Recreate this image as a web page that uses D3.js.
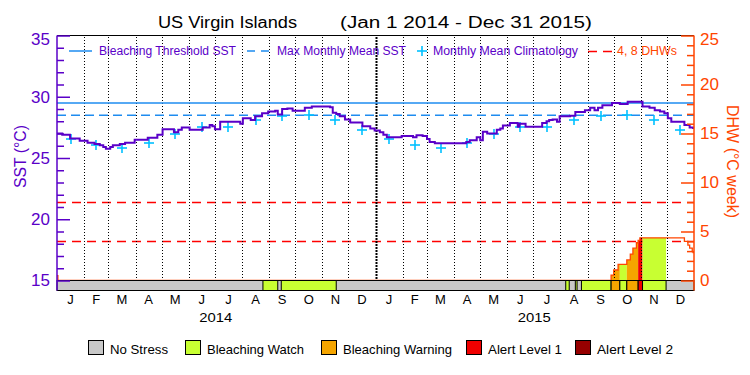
<!DOCTYPE html>
<html>
<head>
<meta charset="utf-8">
<script src="https://cdn.jsdelivr.net/npm/d3@7"></script>
<style>
  body { margin: 0; background: #fff; }
  svg { display: block; font-family: 'Liberation Sans', Arial, sans-serif; }
</style>
</head>
<body>
<div id="chart"></div>
<script>
const monthLetters = ['J', 'F', 'M', 'A', 'M', 'J', 'J', 'A', 'S', 'O', 'N', 'D']
const years = [2014, 2015]

// daily SST (only the points where the step line changes)
const sstDates = [
  '2014-01-01', '2014-01-07', '2014-01-16', '2014-01-27', '2014-02-05', '2014-02-13', '2014-02-19',
  '2014-02-23', '2014-02-26', '2014-03-03', '2014-03-06', '2014-03-14', '2014-03-20', '2014-03-31',
  '2014-04-15', '2014-04-26', '2014-05-02', '2014-05-15', '2014-05-20', '2014-05-24', '2014-06-02',
  '2014-06-17', '2014-06-25', '2014-06-28', '2014-07-01', '2014-07-07', '2014-07-30', '2014-08-02',
  '2014-08-11', '2014-08-16', '2014-08-24', '2014-08-31', '2014-09-08', '2014-09-11', '2014-09-16',
  '2014-09-22', '2014-09-28', '2014-10-12', '2014-10-20', '2014-11-10', '2014-11-13', '2014-11-17',
  '2014-11-21', '2014-11-27', '2014-12-03', '2014-12-17', '2014-12-26', '2014-12-31',
  '2015-01-06', '2015-01-10', '2015-01-14', '2015-01-31', '2015-02-13', '2015-02-17', '2015-02-24',
  '2015-03-01', '2015-03-04', '2015-03-10', '2015-04-15', '2015-04-19', '2015-04-27', '2015-05-01',
  '2015-05-04', '2015-05-09', '2015-05-20', '2015-05-24', '2015-05-27', '2015-06-04', '2015-06-13',
  '2015-06-15', '2015-06-22', '2015-07-11', '2015-07-16', '2015-07-19', '2015-07-23', '2015-07-28',
  '2015-07-31', '2015-08-12', '2015-08-18', '2015-08-29', '2015-09-04', '2015-09-09', '2015-09-13',
  '2015-09-18', '2015-09-29', '2015-10-08', '2015-10-17', '2015-11-03', '2015-11-11', '2015-11-17',
  '2015-11-23', '2015-11-28', '2015-12-02', '2015-12-06', '2015-12-21', '2015-12-27', '2015-12-31'
]
const sstValues = [
  27.0, 26.9, 26.6, 26.4, 26.25, 26.15, 26.05,
  25.9, 25.75, 25.9, 26.05, 26.15, 26.25, 26.5,
  26.65, 26.9, 27.35, 27.1, 27.3, 27.5, 27.3,
  27.5, 27.7, 27.6, 27.35, 27.95, 27.8, 28.25,
  28.1, 28.4, 28.65, 28.8, 28.85, 28.55, 29.0,
  29.05, 28.85, 29.1, 29.2, 29.15, 28.7, 28.6,
  28.4, 28.15, 27.9, 27.6, 27.4, 27.25,
  27.1, 26.9, 26.7, 26.8, 26.7, 26.85, 26.8,
  26.55, 26.3, 26.2, 26.3, 26.45, 26.7, 26.45,
  27.15, 27.0, 27.3, 27.4, 27.65, 27.85, 27.55,
  27.8, 27.55, 27.85, 28.0, 28.1, 28.15, 27.95,
  28.4, 28.45, 28.75, 28.9, 29.1, 28.9, 29.1,
  29.3, 29.5, 29.4, 29.6, 29.2, 29.1, 28.9,
  28.8, 28.65, 28.25, 27.95, 27.7, 27.5, 27.45
]

// monthly mean climatology, Jan..Dec
const climValues = [26.55, 26.1, 25.8, 26.2, 26.95, 27.5, 27.55, 28.1, 28.45, 28.5, 28.1, 27.3]
const mmm = 28.5
const bleachingThreshold = 29.5
const dhwLevels = [4, 8]

const dhwDates = [
  '2014-01-01', '2014-01-02', '2015-09-28', '2015-10-01', '2015-10-06', '2015-10-16', '2015-10-20',
  '2015-10-23', '2015-10-27', '2015-10-29', '2015-10-31', '2015-12-21', '2015-12-25', '2015-12-27',
  '2015-12-30', '2015-12-31'
]
const dhwValues = [0.5, 0, 0.55, 1.07, 1.65, 2.1, 2.7, 3.3, 3.85, 4.1, 4.35, 4.0, 3.6, 3.3, 2.95, 2.85]

// alert status periods (anything not listed is No Stress)
const alertStarts = ['2014-08-25', '2014-09-15', '2015-08-07', '2015-08-18', '2015-08-25', '2015-09-28', '2015-10-08', '2015-10-16', '2015-10-29', '2015-11-03']
const alertEnds = ['2014-09-11', '2014-11-17', '2015-08-11', '2015-08-20', '2015-09-28', '2015-10-08', '2015-10-16', '2015-10-29', '2015-11-03', '2015-11-30']
const alertLevels = [1, 1, 1, 1, 1, 2, 1, 2, 3, 1]

const statusNames = ['No Stress', 'Bleaching Watch', 'Bleaching Warning', 'Alert Level 1', 'Alert Level 2']
const statusColors = ['#c8c8c8', '#c8ff32', '#f5a500', '#f00000', '#960000']

const sstTicks = d3.range(15, 36)
const dhwTicks = d3.range(0, 26)

const purple = '#5a00c8'
const orange = '#ff4500'
const blue = '#1e8cf0'
const cyan = '#00c0ff'

const parse = d3.timeParse('%Y-%m-%d')
const start = new Date(2014, 0, 1)
const end = new Date(2016, 0, 1)

const sst = sstDates.map((d, i) => ({ date: parse(d), v: sstValues[i] }))
sst.push({ date: end, v: sstValues[sstValues.length - 1] })
const dhw = dhwDates.map((d, i) => ({ date: parse(d), v: dhwValues[i] }))
dhw.push({ date: end, v: dhwValues[dhwValues.length - 1] })
const alerts = alertStarts.map((s, i) => ({ s: parse(s), e: parse(alertEnds[i]), level: alertLevels[i] }))

const margin = { top: 35.5, left: 57, right: 694, bottom: 280.5 }

const svg = d3.select('#chart').append('svg').attr('width', 750).attr('height', 375)

const x = d3.scaleTime().domain([start, end]).range([margin.left, margin.right])
const ySst = d3.scaleLinear().domain([15, 35]).range([margin.bottom, margin.top])
const yDhw = d3.scaleLinear().domain([0, 25]).range([margin.bottom, margin.top])

// title
svg.append('text').attr('x', 158).attr('y', 28).attr('font-size', 16)
  .attr('textLength', 139).attr('lengthAdjust', 'spacingAndGlyphs').text('US Virgin Islands')
svg.append('text').attr('x', 340).attr('y', 28).attr('font-size', 16)
  .attr('textLength', 252).attr('lengthAdjust', 'spacingAndGlyphs').text('(Jan 1 2014 - Dec 31 2015)')

// DHW threshold lines
svg.append('g').selectAll('line').data(dhwLevels).enter().append('line')
  .attr('x1', margin.left).attr('x2', margin.right)
  .attr('y1', (d) => Math.round(yDhw(d)) + 0.5).attr('y2', (d) => Math.round(yDhw(d)) + 0.5)
  .attr('stroke', '#ff0000').attr('stroke-width', 1.5).attr('stroke-dasharray', '9,6')

// DHW fill coloured by alert status
const defs = svg.append('defs')
const dhwArea = d3.area().curve(d3.curveStepAfter)
  .x((d) => x(d.date)).y0(yDhw(0)).y1((d) => yDhw(d.v))
alerts.forEach((a, i) => {
  defs.append('clipPath').attr('id', 'clip' + i).append('rect')
    .attr('x', x(a.s)).attr('width', x(a.e) - x(a.s))
    .attr('y', margin.top).attr('height', margin.bottom - margin.top)
  svg.append('path').datum(dhw).attr('d', dhwArea)
    .attr('fill', statusColors[a.level]).attr('clip-path', `url(#clip${i})`)
})

// DHW line
svg.append('path').datum(dhw)
  .attr('d', d3.line().curve(d3.curveStepAfter).x((d) => x(d.date)).y((d) => yDhw(d.v)))
  .attr('fill', 'none').attr('stroke', orange).attr('stroke-width', 1.3)

// month grid lines
const monthStarts = d3.timeMonth.range(d3.timeMonth.offset(start, 1), end)
svg.append('g').selectAll('line').data(monthStarts).enter().append('line')
  .attr('x1', (d) => Math.round(x(d)) + 0.5).attr('x2', (d) => Math.round(x(d)) + 0.5)
  .attr('y1', 37).attr('y2', 280)
  .attr('stroke', '#000')
  .attr('stroke-width', (d) => (d.getMonth() === 0 ? 2 : 1))
  .attr('stroke-dasharray', (d) => (d.getMonth() === 0 ? '2,1' : '1,2'))

// threshold and MMM
svg.append('line').attr('x1', margin.left).attr('x2', margin.right)
  .attr('y1', ySst(bleachingThreshold)).attr('y2', ySst(bleachingThreshold))
  .attr('stroke', blue).attr('stroke-width', 1.5)
svg.append('line').attr('x1', margin.left).attr('x2', margin.right)
  .attr('y1', ySst(mmm)).attr('y2', ySst(mmm))
  .attr('stroke', blue).attr('stroke-width', 1.5).attr('stroke-dasharray', '9,5')

// climatology crosses at mid-month
const clim = []
years.forEach((yr) => {
  climValues.forEach((v, m) => {
    const a = new Date(yr, m, 1)
    const b = new Date(yr, m + 1, 1)
    clim.push({ date: new Date((+a + +b) / 2), v })
  })
})
const cross = svg.append('g').selectAll('g').data(clim).enter().append('g')
  .attr('transform', (d) => `translate(${Math.round(x(d.date))},${Math.round(ySst(d.v))})`)
  .attr('stroke', cyan).attr('stroke-width', 1.6)
cross.append('line').attr('x1', -5).attr('x2', 5)
cross.append('line').attr('y1', -5).attr('y2', 5)

// SST line
svg.append('path').datum(sst)
  .attr('d', d3.line().curve(d3.curveStepAfter).x((d) => x(d.date)).y((d) => ySst(d.v)))
  .attr('fill', 'none').attr('stroke', purple).attr('stroke-width', 2)

// top border
svg.append('line').attr('x1', margin.left).attr('x2', margin.right)
  .attr('y1', margin.top).attr('y2', margin.top).attr('stroke', '#000')

// status bar
const bar = svg.append('g')
bar.append('rect').attr('x', margin.left).attr('y', 280.5)
  .attr('width', margin.right - margin.left).attr('height', 10)
  .attr('fill', statusColors[0]).attr('stroke', '#000')
bar.selectAll('.seg').data(alerts).enter().append('rect').attr('class', 'seg')
  .attr('x', (d) => x(d.s)).attr('y', 280.5)
  .attr('width', (d) => x(d.e) - x(d.s)).attr('height', 10)
  .attr('fill', (d) => statusColors[d.level]).attr('stroke', '#000')

// left axis
svg.append('line').attr('x1', margin.left).attr('x2', margin.left)
  .attr('y1', margin.top).attr('y2', 290.5).attr('stroke', purple).attr('stroke-width', 1.5)
const leftMinor = svg.append('g').attr('transform', `translate(${margin.left},0)`)
  .call(d3.axisLeft(ySst).tickValues(sstTicks.filter((d) => d % 5 !== 0)).tickSize(-7).tickFormat(''))
const leftMajor = svg.append('g').attr('transform', `translate(${margin.left},0)`)
  .call(d3.axisLeft(ySst).tickValues(sstTicks.filter((d) => d % 5 === 0)).tickSize(-13).tickPadding(7))
;[leftMinor, leftMajor].forEach((g) => {
  g.select('.domain').remove()
  g.selectAll('line').attr('stroke', purple).attr('stroke-width', 1.5)
})
leftMajor.selectAll('text').attr('fill', purple).attr('font-size', 17)
  .attr('font-family', "'Liberation Sans', Arial, sans-serif")
  .filter((d) => d === 35).attr('y', 4)

svg.append('text').attr('transform', 'translate(26,156.5) rotate(-90)')
  .attr('text-anchor', 'middle').attr('font-size', 16).attr('fill', purple)
  .attr('textLength', 63).attr('lengthAdjust', 'spacingAndGlyphs').text('SST (°C)')

// right axis
svg.append('line').attr('x1', margin.right).attr('x2', margin.right)
  .attr('y1', margin.top).attr('y2', 290.5).attr('stroke', orange).attr('stroke-width', 1.5)
const rightMinor = svg.append('g').attr('transform', `translate(${margin.right},0)`)
  .call(d3.axisRight(yDhw).tickValues(dhwTicks.filter((d) => d % 5 !== 0)).tickSize(-7).tickFormat(''))
const rightMajor = svg.append('g').attr('transform', `translate(${margin.right},0)`)
  .call(d3.axisRight(yDhw).tickValues(dhwTicks.filter((d) => d % 5 === 0)).tickSize(-13).tickPadding(6))
;[rightMinor, rightMajor].forEach((g) => {
  g.select('.domain').remove()
  g.selectAll('line').attr('stroke', orange).attr('stroke-width', 1.5)
})
rightMajor.selectAll('text').attr('fill', orange).attr('font-size', 17)
  .attr('font-family', "'Liberation Sans', Arial, sans-serif")
  .filter((d) => d === 25).attr('y', 4)

svg.append('text').attr('transform', 'translate(727,161.5) rotate(90)')
  .attr('text-anchor', 'middle').attr('font-size', 16).attr('fill', orange)
  .attr('textLength', 113).attr('lengthAdjust', 'spacingAndGlyphs').text('DHW (°C week)')

// month letters and years
const monthMids = d3.timeMonth.range(start, end).map((d) => ({
  date: new Date((+d + +d3.timeMonth.offset(d, 1)) / 2),
  label: monthLetters[d.getMonth()]
}))
svg.append('g').selectAll('text').data(monthMids).enter().append('text')
  .attr('x', (d) => x(d.date)).attr('y', 304)
  .attr('text-anchor', 'middle').attr('font-size', 13).text((d) => d.label)
svg.append('g').selectAll('text').data(years).enter().append('text')
  .attr('x', (d) => x(new Date(d, 6, 2))).attr('y', 322)
  .attr('text-anchor', 'middle').attr('font-size', 13)
  .attr('textLength', 33).attr('lengthAdjust', 'spacingAndGlyphs').text((d) => d)

// top legend
const lg = svg.append('g')
lg.append('line').attr('x1', 69).attr('x2', 92).attr('y1', 51).attr('y2', 51)
  .attr('stroke', blue).attr('stroke-width', 1.5)
lg.append('line').attr('x1', 247).attr('x2', 269).attr('y1', 51).attr('y2', 51)
  .attr('stroke', blue).attr('stroke-width', 1.5).attr('stroke-dasharray', '8,6')
lg.append('line').attr('x1', 417).attr('x2', 427).attr('y1', 51).attr('y2', 51)
  .attr('stroke', cyan).attr('stroke-width', 1.6)
lg.append('line').attr('x1', 422).attr('x2', 422).attr('y1', 46).attr('y2', 56)
  .attr('stroke', cyan).attr('stroke-width', 1.6)
lg.append('line').attr('x1', 588).attr('x2', 612).attr('y1', 51.5).attr('y2', 51.5)
  .attr('stroke', '#ff0000').attr('stroke-width', 1.5).attr('stroke-dasharray', '9,6')
const topItems = [
  { x: 99, w: 137, t: 'Bleaching Threshold SST', c: purple },
  { x: 277, w: 129, t: 'Max Monthly Mean SST', c: purple },
  { x: 433, w: 145, t: 'Monthly Mean Climatology', c: purple },
  { x: 617, w: 60, t: '4, 8 DHWs', c: orange }
]
lg.selectAll('text').data(topItems).enter().append('text')
  .attr('x', (d) => d.x).attr('y', 55).attr('font-size', 12)
  .attr('fill', (d) => d.c).attr('textLength', (d) => d.w)
  .attr('lengthAdjust', 'spacingAndGlyphs').text((d) => d.t)

// bottom legend
const bottomX = [88, 185, 321, 466, 575]
const bottomW = [58, 97, 109, 74, 76]
const bl = svg.append('g').selectAll('g').data(statusNames).enter().append('g')
  .attr('transform', (d, i) => `translate(${bottomX[i]},0)`)
bl.append('rect').attr('x', 0.5).attr('y', 340.5).attr('width', 15).attr('height', 14)
  .attr('fill', (d, i) => statusColors[i]).attr('stroke', '#000')
bl.append('text').attr('x', 22).attr('y', 353.5).attr('font-size', 13)
  .attr('textLength', (d, i) => bottomW[i]).attr('lengthAdjust', 'spacingAndGlyphs')
  .text((d) => d)
</script>
</body>
</html>
